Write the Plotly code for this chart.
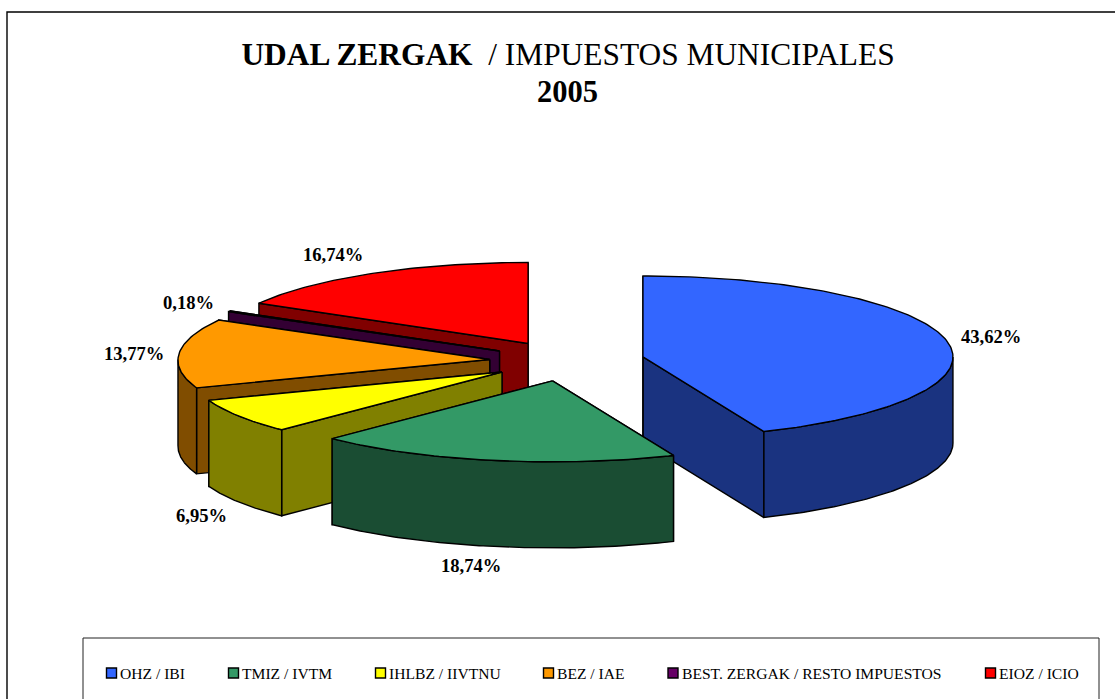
import numpy as np
import plotly.graph_objects as go

# ---- data ----
categories = ["OHZ / IBI", "TMIZ / IVTM", "IHLBZ / IIVTNU", "BEZ / IAE",
              "BEST. ZERGAK / RESTO IMPUESTOS", "EIOZ / ICIO"]
shares = [43.62, 18.74, 6.95, 13.77, 0.18, 16.74]

# ---- styles ----
top_colors = ["#3366FF", "#339966", "#FFFF00", "#FF9900", "#660066", "#FF0000"]
side_colors = ["#1A3380", "#1A4D33", "#808000", "#804D00", "#330033", "#800000"]
draw_order = [5, 4, 3, 2, 0, 1]  # back to front

# ---- pie projection, in page pixels ----
CX, CY = 567.0, 361.0
RX, RY = 310.0, 81.0
DEPTH = 86.0
EXPLODE = 0.25
LENS = 0.014  # slight widening of the near-left part of the ellipse
FONT = "Liberation Serif, Times New Roman, serif"
LINE = dict(color="black", width=1.4)

label_xy = [(991, 336), (471, 565), (201, 515), (134, 353), (188, 302), (333, 254)]
legend_x = [111.5, 233.5, 380.5, 548.5, 673, 990.5]
LEGEND_Y = 673

fig = go.Figure()


def pt(apex, a):
    a = np.asarray(a, dtype=float)
    deg = np.degrees(a)
    widen = np.where(deg > 180, np.clip((300 - deg) / 75, 0, None) * LENS, 0)
    return apex[0] + RX * (1 + widen) * np.sin(a), apex[1] - RY * np.cos(a)


def poly(xs, ys, color, name):
    fig.add_trace(go.Scatter(
        x=list(xs), y=list(ys), mode="lines", fill="toself", fillcolor=color,
        line=LINE, hoverinfo="text", text=name, showlegend=False))


edges = np.radians(np.concatenate([[0], np.cumsum(shares)]) * 3.6)
edges[-1] = 2 * np.pi

for i in draw_order:
    a0, a1 = edges[i], edges[i + 1]
    mid = (a0 + a1) / 2
    apex = (CX + EXPLODE * RX * np.sin(mid), CY - EXPLODE * RY * np.cos(mid))
    name = f"{categories[i]}: {shares[i]:.2f}%".replace(".", ",")

    # radial walls, far one first
    for a in (a1, a0):
        ex, ey = pt(apex, a)
        poly([apex[0], ex, ex, apex[0], apex[0]],
             [apex[1], ey, ey + DEPTH, apex[1] + DEPTH, apex[1]], side_colors[i], name)

    # outer wall: only the part of the rim that faces the viewer
    lo, hi = max(a0, np.pi / 2), min(a1, 3 * np.pi / 2)
    if hi > lo:
        t = np.linspace(lo, hi, 90)
        x, y = pt(apex, t)
        poly(np.r_[x, x[::-1], x[0]], np.r_[y, y[::-1] + DEPTH, y[0]], side_colors[i], name)

    # top face
    t = np.linspace(a0, a1, max(int((a1 - a0) * 60), 3))
    x, y = pt(apex, t)
    poly(np.r_[apex[0], x, apex[0]], np.r_[apex[1], y, apex[1]], top_colors[i], name)

# percentage labels
for i, (lx, ly) in enumerate(label_xy):
    fig.add_annotation(x=lx, y=ly, text=f"<b>{shares[i]:.2f}%</b>".replace(".", ","),
                       showarrow=False, font=dict(family=FONT, size=18.6, color="black"))

# legend
for i, c in enumerate(categories):
    fig.add_trace(go.Scatter(
        x=[legend_x[i]], y=[LEGEND_Y], mode="markers",
        marker=dict(symbol="square", size=10, color=top_colors[i], line=dict(color="black", width=1.4)),
        hoverinfo="text", text=c, showlegend=False))
    fig.add_annotation(x=legend_x[i] + 6.5, y=LEGEND_Y, text=c, xanchor="left", showarrow=False,
                       font=dict(family=FONT, size=15.6, color="black"))

# second title line
fig.add_annotation(x=567.5, y=92, text="<b>2005</b>", showarrow=False,
                   font=dict(family=FONT, size=30.5, color="black"))

# frame and legend box (run past the page edge as in the picture)
frame = dict(type="rect", xref="x", yref="y", layer="below", fillcolor="white")
fig.add_shape(x0=7, y0=12, x1=1125, y1=710, line=dict(color="black", width=1.4), **frame)
fig.add_shape(x0=83, y0=638, x1=1099, y1=710, line=dict(color="#222222", width=1), **frame)

fig.update_layout(
    width=1115, height=699, margin=dict(l=0, r=0, t=0, b=0),
    paper_bgcolor="white", plot_bgcolor="white", showlegend=False,
    title=dict(
        text="<b>UDAL ZERGAK </b> / IMPUESTOS MUNICIPALES",
        x=568 / 1115, xanchor="center", y=1 - 54 / 699, yanchor="middle",
        font=dict(family=FONT, size=31.4, color="black")),
    xaxis=dict(range=[0, 1115], visible=False, fixedrange=True),
    yaxis=dict(range=[699, 0], visible=False, fixedrange=True),
)

fig.write_html("out.html", config={"displayModeBar": False},
               post_script="document.body.style.margin='0';document.body.style.overflow='hidden';")
